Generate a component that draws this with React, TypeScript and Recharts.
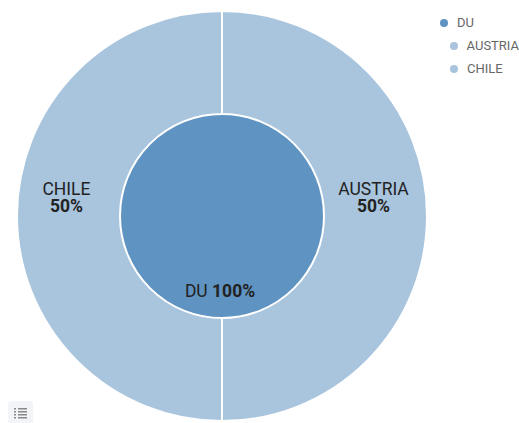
import React from "react";
import { PieChart, Pie, Cell, Legend } from "recharts";

const innerNames = ["DU"];
const innerValues = [100];
const outerNames = ["AUSTRIA", "CHILE"];
const outerValues = [50, 50];

const innerData = innerNames.map((name, i) => ({ name, value: innerValues[i] }));
const outerData = outerNames.map((name, i) => ({ name, value: outerValues[i] }));

const DARK = "#5f93c1";
const LIGHT = "#a9c5de";
const FONT = "Roboto, sans-serif";

// Outer ring labels: name on first line, bold percent below
function outerLabel(props: any) {
  const { cx, cy, midAngle, innerRadius, outerRadius, name, value } = props;
  const r = (innerRadius + outerRadius) / 2;
  const x = cx + r * Math.cos((-midAngle * Math.PI) / 180) - 2;
  return (
    <text x={x} textAnchor="middle" fontFamily={FONT} fontSize={17.5} fill="#222">
      <tspan x={x} y={cy - 21}>{name}</tspan>
      <tspan x={x} y={cy - 4} fontWeight="bold">{value}%</tspan>
    </text>
  );
}

function innerLabel(props: any) {
  const { cx, cy, name, value } = props;
  return (
    <text x={cx - 2} y={cy + 81} textAnchor="middle" fontFamily={FONT} fontSize={17.5} fill="#222">
      {name} <tspan fontWeight="bold">{value}%</tspan>
    </text>
  );
}

function LegendList() {
  const rows = [
    { name: innerNames[0], color: DARK, indent: 0 },
    { name: outerNames[0], color: LIGHT, indent: 10 },
    { name: outerNames[1], color: LIGHT, indent: 10 },
  ];
  return (
    <div style={{ fontFamily: FONT, fontSize: 13, color: "#666" }}>
      {rows.map((r) => (
        <div key={r.name} style={{ display: "flex", alignItems: "center", height: 23, marginLeft: r.indent, whiteSpace: "nowrap" }}>
          <span style={{ width: 8, height: 8, borderRadius: 4, background: r.color, marginRight: 9 }} />
          {r.name}
        </div>
      ))}
    </div>
  );
}

export default function App() {
  return (
    <div style={{ position: "absolute", left: 0, top: 0, width: 519, height: 423, overflow: "hidden", background: "#fff" }}>
      <PieChart width={519} height={423} margin={{ top: 0, right: 0, bottom: 0, left: 0 }}>
        <Legend
          layout="vertical"
          align="right"
          verticalAlign="top"
          wrapperStyle={{ left: 440, top: 11, width: 79, right: "auto" }}
          content={<LegendList />}
        />
        <Pie
          data={innerData}
          dataKey="value"
          nameKey="name"
          cx={222}
          cy={216}
          innerRadius={0}
          outerRadius={102}
          startAngle={90}
          endAngle={-270}
          stroke="none"
          label={innerLabel}
          labelLine={false}
          isAnimationActive={false}
        >
          {innerData.map((d) => (
            <Cell key={d.name} fill={DARK} />
          ))}
        </Pie>
        <Pie
          data={outerData}
          dataKey="value"
          nameKey="name"
          cx={222}
          cy={216}
          innerRadius={102}
          outerRadius={205}
          startAngle={90}
          endAngle={-270}
          stroke="#fff"
          strokeWidth={2}
          label={outerLabel}
          labelLine={false}
          isAnimationActive={false}
        >
          {outerData.map((d) => (
            <Cell key={d.name} fill={LIGHT} />
          ))}
        </Pie>
      </PieChart>
      <div style={{ position: "absolute", left: 8, top: 401, width: 25, height: 22, background: "#f3f4f8", borderRadius: "3px 3px 0 0" }}>
        <svg width={25} height={22}>
          {[7, 10, 13, 16].map((y) => (
            <g key={y} fill="#888">
              <rect x={6} y={y} width={2} height={1.5} />
              <rect x={10} y={y} width={9} height={1.5} />
            </g>
          ))}
        </svg>
      </div>
    </div>
  );
}
